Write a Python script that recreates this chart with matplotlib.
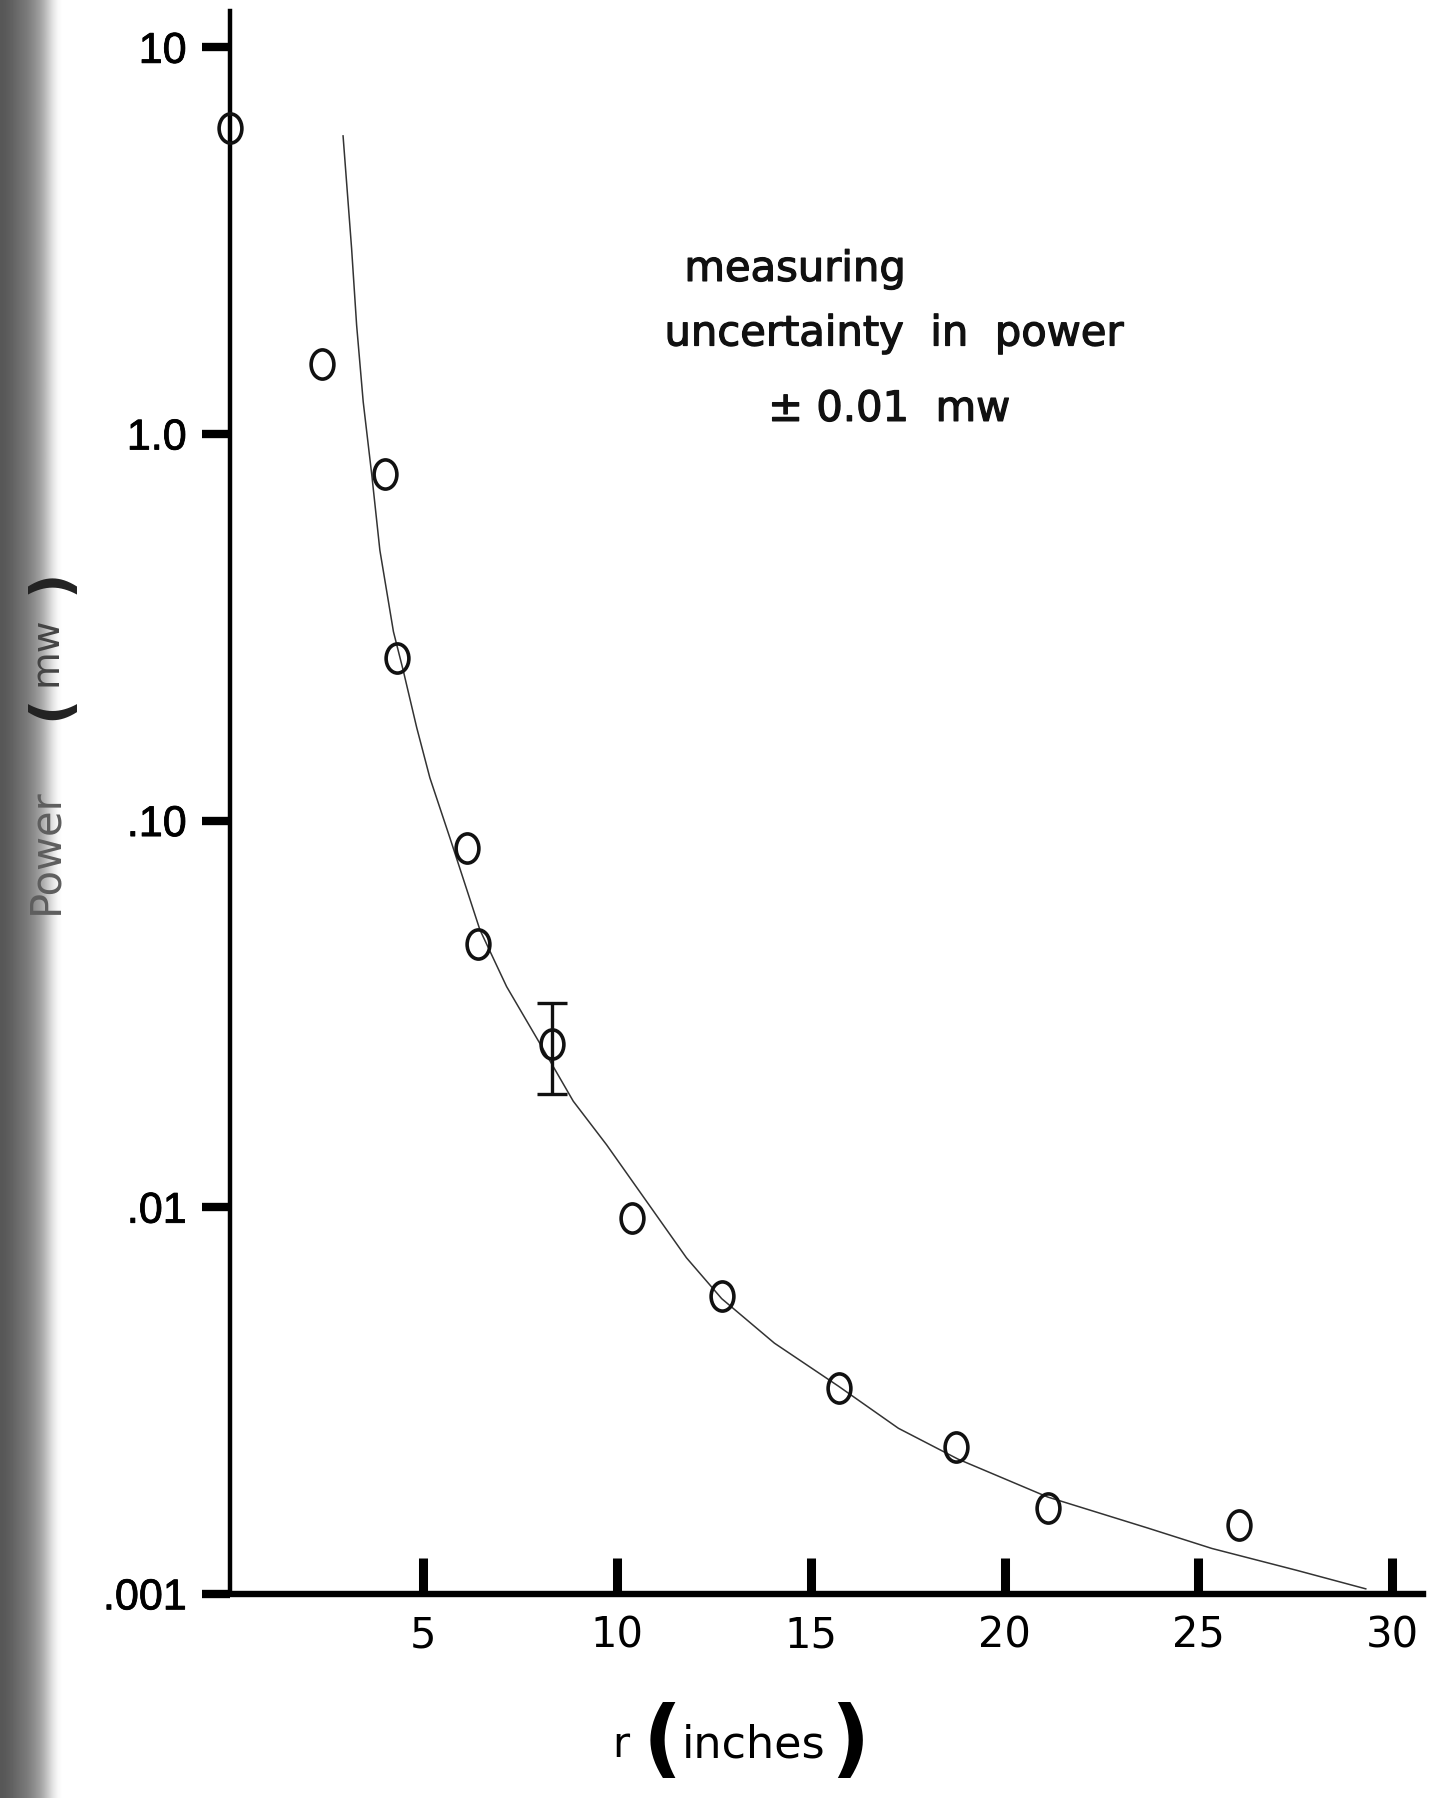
import numpy as np
import matplotlib.pyplot as plt
import matplotlib.patheffects as pe
from matplotlib.path import Path
from matplotlib.transforms import Affine2D

# measured points (r in inches, power in mw)
r_meas = [0.0, 2.39, 4.01, 4.32, 6.12, 6.42, 8.31, 10.38, 12.70, 15.72, 18.74, 21.11, 26.06]
p_meas = [6.2, 1.52, 0.79, 0.264, 0.085, 0.048, 0.0264, 0.0094, 0.0059, 0.0034, 0.0024, 0.00167, 0.00151]

# the one point drawn with an error bar
r_err = [8.31]
p_err = [0.0264]
p_err_lo = [0.0196]
p_err_hi = [0.0338]

# hand drawn curve through the data
r_fit = [2.93, 3.15, 3.28, 3.45, 3.67, 3.88, 4.23, 4.48, 4.83, 5.17, 5.69, 6.46, 7.15, 8.01,
         8.87, 9.73, 10.59, 11.79, 12.70, 14.06, 15.72, 17.26, 18.80, 21.11, 23.69, 25.35, 27.54, 29.32]
p_fit = [5.9, 3.02, 1.91, 1.21, 0.785, 0.50, 0.308, 0.245, 0.174, 0.129, 0.090, 0.0522, 0.0372, 0.0265,
         0.0188, 0.0145, 0.01095, 0.0074, 0.0058, 0.00445, 0.00344, 0.00268, 0.00223, 0.00178, 0.00148,
         0.00131, 0.00115, 0.00103]

y_ticks = [10, 1.0, 0.1, 0.01, 0.001]
y_ticklabels = ['10', '1.0', '.10', '.01', '.001']
x_ticks = [5, 10, 15, 20, 25, 30]
x_ticklabels = ['5', '10', '15', '20', '25', '30']

# grey shadow of the scanned page edge
shadow = [0.34, 0.36, 0.38, 0.41, 0.44, 0.47, 0.51, 0.56, 0.62, 0.70, 0.80, 0.90, 0.97, 1.0]

narrow = ['Liberation Sans Narrow', 'DejaVu Sans']
heavy = [pe.withStroke(linewidth=0.9, foreground='#111111')]

fig = plt.figure(figsize=(14.3, 17.99), dpi=100)
fig.patch.set_facecolor('white')

sh = fig.add_axes([0, 0, 0.045, 1])
sh.imshow(np.array([shadow]), cmap='gray', vmin=0, vmax=1, aspect='auto', interpolation='bilinear')
sh.axis('off')

ax = fig.add_axes([0.1605, 0.1135, 0.8347, 0.8801])
ax.set_yscale('log')
ax.set_xlim(0, 30.8)
ax.set_ylim(0.001, 12.45)

for s in ['top', 'right']:
    ax.spines[s].set_visible(False)
ax.spines['left'].set_linewidth(3.2)
ax.spines['bottom'].set_linewidth(4.6)

ax.set_yticks(y_ticks)
ax.set_yticklabels(y_ticklabels, fontsize=31, family=['Liberation Sans', 'DejaVu Sans'])
ax.yaxis.set_minor_locator(plt.NullLocator())
ax.tick_params(axis='y', direction='out', length=20, width=6, pad=11)
for lab in ax.get_yticklabels():
    lab.set_path_effects([pe.withStroke(linewidth=0.6, foreground='black')])

ax.set_xticks(x_ticks)
ax.set_xticklabels(x_ticklabels, fontsize=30, family=narrow)
ax.tick_params(axis='x', direction='in', length=26, width=6.5, pad=14)

# hollow "O" shaped markers
oval = Path.unit_circle().transformed(Affine2D().scale(0.78, 1.0))

ax.plot(r_fit, p_fit, color='#333333', lw=1.1, zorder=2)
ax.plot(r_meas, p_meas, linestyle='none', marker=oval, markersize=21,
        markerfacecolor='none', markeredgecolor='#111111', markeredgewidth=2.6,
        clip_on=False, zorder=3)

yerr = [[p_err[0] - p_err_lo[0]], [p_err_hi[0] - p_err[0]]]
ax.errorbar(r_err, p_err, yerr=yerr, fmt='none', ecolor='#111111', elinewidth=2.4,
            capsize=11, capthick=2.4, zorder=3)

# note on the measuring uncertainty
for txt, fx, fy in [('measuring', 0.5559, 0.8433),
                    ('uncertainty  in  power', 0.6250, 0.8074),
                    ('\u00b1 0.01  mw', 0.6217, 0.7655)]:
    ax.text(fx, fy, txt, transform=fig.transFigure, ha='center', va='baseline',
            fontsize=30, color='#111111', path_effects=heavy)

# x axis label: r ( inches )
fig.text(0.434, 0.030, 'r', ha='center', va='center', fontsize=30, family=narrow)
fig.text(0.463, 0.031, '(', ha='center', va='center', fontsize=62, fontweight='bold')
fig.text(0.527, 0.030, 'inches', ha='center', va='center', fontsize=32, family=narrow)
fig.text(0.594, 0.031, ')', ha='center', va='center', fontsize=62, fontweight='bold')

# y axis label: Power ( mw ), faint on the shadow
fig.text(0.032, 0.527, 'Power', rotation=90, ha='center', va='center',
         fontsize=30, color='#5e5e5e')
fig.text(0.036, 0.607, '(', rotation=90, ha='center', va='center',
         fontsize=40, fontweight='bold', color='#222222')
fig.text(0.032, 0.638, 'mw', rotation=90, ha='center', va='center',
         fontsize=28, color='#444444')
fig.text(0.036, 0.677, ')', rotation=90, ha='center', va='center',
         fontsize=40, fontweight='bold', color='#222222')

fig.savefig('out.png', dpi=100)
